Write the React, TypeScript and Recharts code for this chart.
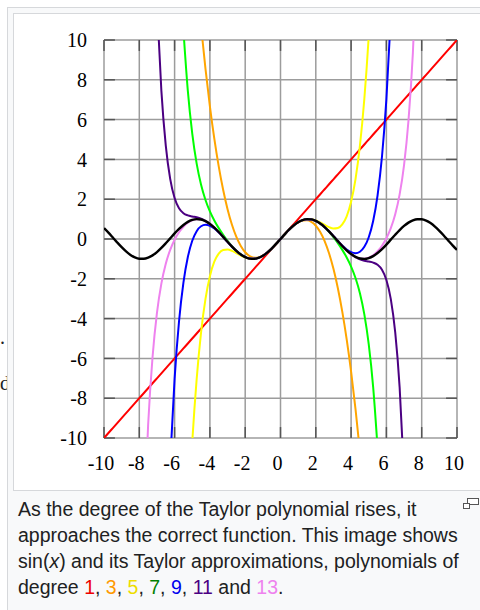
import React from "react";
import {
  LineChart,
  Line,
  XAxis,
  YAxis,
  CartesianGrid,
  ReferenceLine,
} from "recharts";

const _ = null;

// sample points along x
const xs = [
  -10, -9.75, -9.5, -9.25, -9, -8.75, -8.5, -8.25,
  -8, -7.75, -7.5, -7.25, -7, -6.75, -6.5, -6.25,
  -6, -5.75, -5.5, -5.25, -5, -4.75, -4.5, -4.25,
  -4, -3.75, -3.5, -3.25, -3, -2.75, -2.5, -2.25,
  -2, -1.75, -1.5, -1.25, -1, -0.75, -0.5, -0.25,
  0,
  0.25, 0.5, 0.75, 1, 1.25, 1.5, 1.75, 2,
  2.25, 2.5, 2.75, 3, 3.25, 3.5, 3.75, 4,
  4.25, 4.5, 4.75, 5, 5.25, 5.5, 5.75, 6,
  6.25, 6.5, 6.75, 7, 7.25, 7.5, 7.75, 8,
  8.25, 8.5, 8.75, 9, 9.25, 9.5, 9.75, 10,
];

// sin(x)
const sinY = [
  0.544, 0.3195, 0.0752, -0.1743, -0.4121, -0.6247, -0.7985, -0.9228,
  -0.9894, -0.9946, -0.938, -0.8231, -0.657, -0.45, -0.2151, 0.0332,
  0.2794, 0.5083, 0.7055, 0.8589, 0.9589, 0.9993, 0.9775, 0.895,
  0.7568, 0.5716, 0.3508, 0.1082, -0.1411, -0.3817, -0.5985, -0.7781,
  -0.9093, -0.984, -0.9975, -0.949, -0.8415, -0.6816, -0.4794, -0.2474,
  0,
  0.2474, 0.4794, 0.6816, 0.8415, 0.949, 0.9975, 0.984, 0.9093,
  0.7781, 0.5985, 0.3817, 0.1411, -0.1082, -0.3508, -0.5716, -0.7568,
  -0.895, -0.9775, -0.9993, -0.9589, -0.8589, -0.7055, -0.5083, -0.2794,
  -0.0332, 0.2151, 0.45, 0.657, 0.8231, 0.938, 0.9946, 0.9894,
  0.9228, 0.7985, 0.6247, 0.4121, 0.1743, -0.0752, -0.3195, -0.544,
];

// degree 1
const t1Y = [
  -10, -9.75, -9.5, -9.25, -9, -8.75, -8.5, -8.25,
  -8, -7.75, -7.5, -7.25, -7, -6.75, -6.5, -6.25,
  -6, -5.75, -5.5, -5.25, -5, -4.75, -4.5, -4.25,
  -4, -3.75, -3.5, -3.25, -3, -2.75, -2.5, -2.25,
  -2, -1.75, -1.5, -1.25, -1, -0.75, -0.5, -0.25,
  0,
  0.25, 0.5, 0.75, 1, 1.25, 1.5, 1.75, 2,
  2.25, 2.5, 2.75, 3, 3.25, 3.5, 3.75, 4,
  4.25, 4.5, 4.75, 5, 5.25, 5.5, 5.75, 6,
  6.25, 6.5, 6.75, 7, 7.25, 7.5, 7.75, 8,
  8.25, 8.5, 8.75, 9, 9.25, 9.5, 9.75, 10,
];

// degree 3
const t3Y = [
  _, _, _, _, _, _, _, _,
  _, _, _, _, _, _, _, _,
  _, _, _, _, _, _, 10.6875, 8.5443,
  6.6667, 5.0391, 3.6458, 2.4714, 1.5, 0.7161, 0.1042, -0.3516,
  -0.6667, -0.8568, -0.9375, -0.9245, -0.8333, -0.6797, -0.4792, -0.2474,
  0,
  0.2474, 0.4792, 0.6797, 0.8333, 0.9245, 0.9375, 0.8568, 0.6667,
  0.3516, -0.1042, -0.7161, -1.5, -2.4714, -3.6458, -5.0391, -6.6667,
  -8.5443, -10.6875, _, _, _, _, _, _,
  _, _, _, _, _, _, _, _,
  _, _, _, _, _, _, _, _,
];

// degree 5
const t5Y = [
  _, _, _, _, _, _, _, _,
  _, _, _, _, _, _, _, _,
  _, _, _, -14.3693, -10.2083, -7.0386, -4.6898, -3.0105,
  -1.8667, -1.1407, -0.731, -0.5502, -0.525, -0.5945, -0.7096, -0.8321,
  -0.9333, -0.9936, -1.0008, -0.9499, -0.8417, -0.6817, -0.4794, -0.2474,
  0,
  0.2474, 0.4794, 0.6817, 0.8417, 0.9499, 1.0008, 0.9936, 0.9333,
  0.8321, 0.7096, 0.5945, 0.525, 0.5502, 0.731, 1.1407, 1.8667,
  3.0105, 4.6898, 7.0386, 10.2083, 14.3693, _, _, _,
  _, _, _, _, _, _, _, _,
  _, _, _, _, _, _, _, _,
];

// degree 7
const t7Y = [
  _, _, _, _, _, _, _, _,
  _, _, _, _, _, _, _, _,
  _, _, 10.4958, 7.4422, 5.2927, 3.7863, 2.7243, 1.9587,
  1.3841, 0.9284, 0.5456, 0.2097, -0.0911, -0.3585, -0.5885, -0.7742,
  -0.9079, -0.9836, -0.9974, -0.949, -0.8415, -0.6816, -0.4794, -0.2474,
  0,
  0.2474, 0.4794, 0.6816, 0.8415, 0.949, 0.9974, 0.9836, 0.9079,
  0.7742, 0.5885, 0.3585, 0.0911, -0.2097, -0.5456, -0.9284, -1.3841,
  -1.9587, -2.7243, -3.7863, -5.2927, -7.4422, -10.4958, _, _,
  _, _, _, _, _, _, _, _,
  _, _, _, _, _, _, _, _,
];

// degree 9
const t9Y = [
  _, _, _, _, _, _, _, _,
  _, _, _, _, _, _, _, -11.2195,
  -7.0285, -4.1455, -2.1954, -0.9075, -0.0897, 0.3941, 0.6391, 0.7121,
  0.6617, 0.5243, 0.3284, 0.0982, -0.1453, -0.3833, -0.599, -0.7783,
  -0.9093, -0.984, -0.9975, -0.949, -0.8415, -0.6816, -0.4794, -0.2474,
  0,
  0.2474, 0.4794, 0.6816, 0.8415, 0.949, 0.9975, 0.984, 0.9093,
  0.7783, 0.599, 0.3833, 0.1453, -0.0982, -0.3284, -0.5243, -0.6617,
  -0.7121, -0.6391, -0.3941, 0.0897, 0.9075, 2.1954, 4.1455, 7.0285,
  11.2195, _, _, _, _, _, _, _,
  _, _, _, _, _, _, _, _,
];

// degree 11
const t11Y = [
  _, _, _, _, _, _, _, _,
  _, _, _, _, 11.8423, 7.4538, 4.6924, 3.0211,
  2.0603, 1.5455, 1.2947, 1.1847, 1.1335, 1.0899, 1.023, 0.9168,
  0.7668, 0.576, 0.3526, 0.1089, -0.1409, -0.3816, -0.5984, -0.7781,
  -0.9093, -0.984, -0.9975, -0.949, -0.8415, -0.6816, -0.4794, -0.2474,
  0,
  0.2474, 0.4794, 0.6816, 0.8415, 0.949, 0.9975, 0.984, 0.9093,
  0.7781, 0.5984, 0.3816, 0.1409, -0.1089, -0.3526, -0.576, -0.7668,
  -0.9168, -1.023, -1.0899, -1.1335, -1.1847, -1.2947, -1.5455, -2.0603,
  -3.0211, -4.6924, -7.4538, -11.8423, _, _, _, _,
  _, _, _, _, _, _, _, _,
];

// degree 13
const t13Y = [
  _, _, _, _, _, _, _, _,
  _, -14.581, -9.3495, -5.9435, -3.7172, -2.2439, -1.245, -0.5447,
  -0.0371, 0.3394, 0.6179, 0.815, 0.9375, 0.9893, 0.9732, 0.8931,
  0.756, 0.5713, 0.3507, 0.1082, -0.1412, -0.3817, -0.5985, -0.7781,
  -0.9093, -0.984, -0.9975, -0.949, -0.8415, -0.6816, -0.4794, -0.2474,
  0,
  0.2474, 0.4794, 0.6816, 0.8415, 0.949, 0.9975, 0.984, 0.9093,
  0.7781, 0.5985, 0.3817, 0.1412, -0.1082, -0.3507, -0.5713, -0.756,
  -0.8931, -0.9732, -0.9893, -0.9375, -0.815, -0.6179, -0.3394, 0.0371,
  0.5447, 1.245, 2.2439, 3.7172, 5.9435, 9.3495, 14.581, _,
  _, _, _, _, _, _, _, _,
];

const ticks = [-10, -8, -6, -4, -2, 0, 2, 4, 6, 8, 10];

const series = [
  { key: "t1", values: t1Y, color: "#ff0000", width: 2 },
  { key: "t3", values: t3Y, color: "#ffa500", width: 2 },
  { key: "t5", values: t5Y, color: "#ffff00", width: 2 },
  { key: "t7", values: t7Y, color: "#00ff00", width: 2 },
  { key: "t9", values: t9Y, color: "#0000ff", width: 2 },
  { key: "t11", values: t11Y, color: "#4b0082", width: 2 },
  { key: "t13", values: t13Y, color: "#ee82ee", width: 2 },
  { key: "sin", values: sinY, color: "#000000", width: 2.4 },
];

const data = xs.map((x, i) => {
  const row: Record<string, number | null> = { x };
  series.forEach((s) => {
    row[s.key] = s.values[i];
  });
  return row;
});

const serif = "'Liberation Serif', 'Times New Roman', serif";

function XTick({ x, y, payload }: any) {
  return (
    <text x={x - 3} y={y} dy="0.71em" textAnchor="middle" fontFamily={serif} fontSize={20} fill="#000">
      {payload.value}
    </text>
  );
}

function YTick({ x, y, payload }: any) {
  return (
    <text x={x} y={y} dy="0.355em" textAnchor="end" fontFamily={serif} fontSize={20} fill="#000">
      {payload.value}
    </text>
  );
}

function MagnifyIcon() {
  return (
    <svg width={17} height={13} style={{ position: "absolute", left: 463, top: 497 }}>
      <rect x={4.5} y={1.5} width={11} height={6} fill="#fff" stroke="#555" />
      <rect x={0.5} y={6.5} width={6} height={5} fill="#fff" stroke="#555" />
    </svg>
  );
}

const captionColors = {
  1: "#ee0000",
  3: "#ff9900",
  5: "#eedd00",
  7: "#008000",
  9: "#0000ee",
  11: "#4b0082",
  13: "#ee82ee",
};

export default function App() {
  return (
    <div
      style={{
        position: "fixed",
        left: 0,
        top: 0,
        width: 480,
        height: 610,
        overflow: "hidden",
        background: "#fff",
      }}
    >
      {/* bits of the article text next to the thumbnail */}
      <span style={{ position: "absolute", left: 0, top: 326, fontFamily: serif, fontSize: 20, color: "#202122" }}>.</span>
      <span style={{ position: "absolute", left: 0, top: 372, fontFamily: serif, fontSize: 20, color: "#202122" }}>d</span>

      <div
        style={{
          position: "absolute",
          left: 7,
          top: 7,
          width: 520,
          height: 700,
          border: "1px solid #d6d8db",
          background: "#f8f9fa",
        }}
      />
      <div
        style={{
          position: "absolute",
          left: 13,
          top: 13,
          width: 520,
          height: 476,
          border: "1px solid #d6d8db",
          background: "#fff",
        }}
      />

      <div style={{ position: "absolute", left: 0, top: 0 }}>
        <LineChart width={480} height={490} data={data} margin={{ top: 40, right: 23, bottom: 22, left: 44 }}>
          <CartesianGrid stroke="#9c9c9c" strokeWidth={1.5} />
          <XAxis
            dataKey="x"
            type="number"
            domain={[-10, 10]}
            ticks={ticks}
            interval={0}
            allowDataOverflow
            axisLine={false}
            tickLine={false}
            tickSize={0}
            tickMargin={18}
            tick={<XTick />}
          />
          <YAxis
            type="number"
            domain={[-10, 10]}
            ticks={ticks}
            interval={0}
            allowDataOverflow
            axisLine={false}
            tickLine={false}
            tickSize={0}
            tickMargin={17}
            tick={<YTick />}
          />
          {ticks.map((t) => (
            <ReferenceLine key={`b${t}`} segment={[{ x: t, y: -10 }, { x: t, y: -9.45 }]} stroke="#555" strokeWidth={1.5} />
          ))}
          {ticks.map((t) => (
            <ReferenceLine key={`t${t}`} segment={[{ x: t, y: 10 }, { x: t, y: 9.45 }]} stroke="#555" strokeWidth={1.5} />
          ))}
          {ticks.map((t) => (
            <ReferenceLine key={`l${t}`} segment={[{ x: -10, y: t }, { x: -9.38, y: t }]} stroke="#555" strokeWidth={1.5} />
          ))}
          {ticks.map((t) => (
            <ReferenceLine key={`r${t}`} segment={[{ x: 10, y: t }, { x: 9.38, y: t }]} stroke="#555" strokeWidth={1.5} />
          ))}
          {series.map((s) => (
            <Line
              key={s.key}
              dataKey={s.key}
              type="monotone"
              stroke={s.color}
              strokeWidth={s.width}
              dot={false}
              activeDot={false}
              isAnimationActive={false}
            />
          ))}
        </LineChart>
      </div>

      <div
        style={{
          position: "absolute",
          left: 18,
          top: 496,
          fontFamily: "'Liberation Sans', Arial, Helvetica, sans-serif",
          fontSize: 19.5,
          lineHeight: "26px",
          color: "#202122",
          whiteSpace: "nowrap",
        }}
      >
        As the degree of the Taylor polynomial rises, it
        <br />
        approaches the correct function. This image shows
        <br />
        sin(<i>x</i>) and its Taylor approximations, polynomials of
        <br />
        degree <span style={{ color: captionColors[1] }}>1</span>,{" "}
        <span style={{ color: captionColors[3] }}>3</span>,{" "}
        <span style={{ color: captionColors[5] }}>5</span>,{" "}
        <span style={{ color: captionColors[7] }}>7</span>,{" "}
        <span style={{ color: captionColors[9] }}>9</span>,{" "}
        <span style={{ color: captionColors[11] }}>11</span> and{" "}
        <span style={{ color: captionColors[13] }}>13</span>.
      </div>
      <MagnifyIcon />
    </div>
  );
}
